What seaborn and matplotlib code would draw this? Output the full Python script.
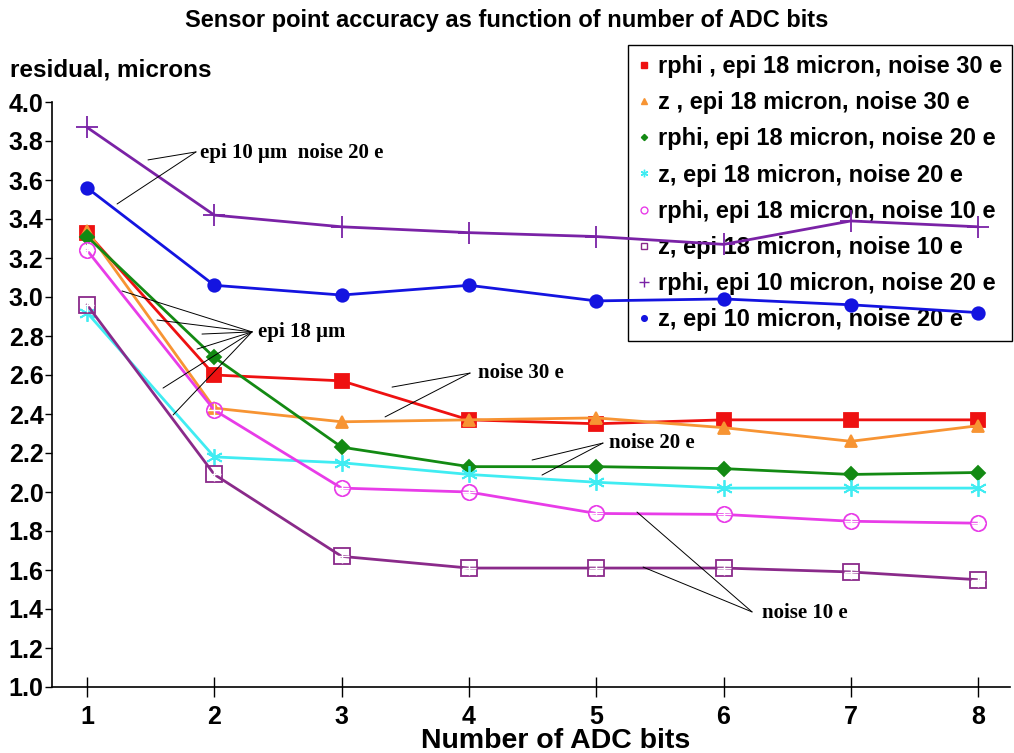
import matplotlib
matplotlib.use("Agg")
import matplotlib.pyplot as plt
import seaborn as sns
import pandas as pd
from matplotlib.lines import Line2D

bits = [1, 2, 3, 4, 5, 6, 7, 8]
labels = [
    "rphi , epi 18 micron, noise 30 e",
    "z , epi 18 micron, noise 30 e",
    "rphi, epi 18 micron, noise 20 e",
    "z, epi 18 micron, noise 20 e",
    "rphi, epi 18 micron, noise 10 e",
    "z, epi 18 micron, noise 10 e",
    "rphi, epi 10 micron, noise 20 e",
    "z, epi 10 micron, noise 20 e",
]
rphi_18_30 = [3.33, 2.60, 2.57, 2.37, 2.35, 2.37, 2.37, 2.37]
z_18_30 = [3.34, 2.43, 2.36, 2.37, 2.38, 2.33, 2.26, 2.34]
rphi_18_20 = [3.31, 2.69, 2.23, 2.13, 2.13, 2.12, 2.09, 2.10]
z_18_20 = [2.92, 2.18, 2.15, 2.09, 2.05, 2.02, 2.02, 2.02]
rphi_18_10 = [3.24, 2.42, 2.02, 2.00, 1.89, 1.885, 1.85, 1.84]
z_18_10 = [2.96, 2.09, 1.67, 1.61, 1.61, 1.61, 1.59, 1.55]
rphi_10_20 = [3.87, 3.42, 3.36, 3.33, 3.31, 3.27, 3.39, 3.36]
z_10_20 = [3.56, 3.06, 3.01, 3.06, 2.98, 2.99, 2.96, 2.92]
series = [rphi_18_30, z_18_30, rphi_18_20, z_18_20, rphi_18_10, z_18_10, rphi_10_20, z_10_20]

yticks = [1.0, 1.2, 1.4, 1.6, 1.8, 2.0, 2.2, 2.4, 2.6, 2.8, 3.0, 3.2, 3.4, 3.6, 3.8, 4.0]

colors = ["#ee1111", "#f79433", "#138a13", "#40ecf2", "#e83ce8", "#8a2a8a", "#7a22a6", "#1414e0"]
markers = ["s", "^", "D", (6, 2, 0), "o", "s", "+", "o"]
msizes = [10, 9, 7, 12, 11, 11, 16, 9]
filled = [True, True, True, True, False, False, True, True]

sns.set_theme(style="white")
plt.rcParams["font.family"] = ["Liberation Sans", "DejaVu Sans"]
plt.rcParams["text.color"] = "black"

fig = plt.figure(figsize=(10.14, 7.53), dpi=100)
ax = fig.add_axes([52 / 1014, 1 - 687 / 753, (1010 - 52) / 1014, (687 - 102) / 753])

for i, vals in enumerate(series):
    d = pd.DataFrame({"bits": bits, "res": vals})
    kw = dict(markeredgecolor=colors[i], markersize=msizes[i], markeredgewidth=1.3)
    kw["markerfacecolor"] = colors[i] if filled[i] else "none"
    sns.lineplot(data=d, x="bits", y="res", ax=ax, color=colors[i], marker=markers[i],
                 linewidth=2, zorder=3, **kw)
    if not filled[i]:
        sns.lineplot(data=d, x="bits", y="res", ax=ax, color=colors[i], marker="+",
                     linestyle="", markersize=msizes[i] * 0.9, markeredgewidth=1.0, zorder=4)

ax.set_xlim(0.725, 8.25)
ax.set_ylim(1.0, 4.0)
ax.set_xticks(bits)
ax.set_yticks(yticks)
ax.set_xticklabels([str(b) for b in bits], fontsize=18, fontweight="bold", color="black")
ax.set_yticklabels([f"{v:.1f}" for v in yticks], fontsize=18, fontweight="bold", color="black")
ax.tick_params(axis="x", bottom=True, direction="inout", length=14, width=1, pad=6, colors="black")
ax.tick_params(axis="y", left=True, direction="out", length=5, width=1, pad=1, colors="black")
for s in ["top", "right"]:
    ax.spines[s].set_visible(False)
for s in ["left", "bottom"]:
    ax.spines[s].set_color("black")
    ax.spines[s].set_linewidth(1.2)
ax.set_xlabel("")
ax.set_ylabel("")
ax.grid(False)

fig.text(0.5, 1 - 20 / 753, "Sensor point accuracy as function of number of ADC bits",
         ha="center", va="center", fontsize=17, fontweight="bold", color="black")
fig.text(10 / 1014, 1 - 70 / 753, "residual, microns", ha="left", va="center",
         fontsize=17.5, fontweight="bold", color="black")
fig.text(556 / 1014, 1 - 741 / 753, "Number of ADC bits", ha="center", va="center",
         fontsize=20.5, fontweight="bold", color="black")

# annotations (data coordinates)
serif = dict(family=["Liberation Serif", "DejaVu Serif"], fontweight="bold", fontsize=15,
             color="black")
def annot(text, tx, ty, sx, sy, ends):
    ax.text(tx, ty, text, ha="left", va="center", zorder=6, **serif)
    for ex, ey in ends:
        ax.plot([sx, ex], [sy, ey], color="black", linewidth=0.7, zorder=5)

annot("epi 10 \u03bcm  noise 20 e", 1.888, 3.738, 1.856, 3.744,
      [(1.479, 3.703), (1.236, 3.477)])
annot("epi 18 \u03bcm", 2.343, 2.821, 2.296, 2.821,
      [(1.275, 3.031), (1.550, 2.882), (1.903, 2.810), (1.864, 2.733), (1.597, 2.533), (1.676, 2.395)])
annot("noise 30 e", 4.071, 2.610, 4.009, 2.610, [(3.396, 2.538), (3.341, 2.385)])
annot("noise 20 e", 5.101, 2.251, 5.053, 2.251, [(4.496, 2.164), (4.574, 2.087)])
annot("noise 10 e", 6.302, 1.379, 6.224, 1.385, [(5.320, 1.897), (5.368, 1.615)])

handles = []
for i in range(len(series)):
    handles.append(Line2D([], [], linestyle="", marker=markers[i], color=colors[i],
                          markerfacecolor=colors[i] if filled[i] else "none",
                          markeredgecolor=colors[i], markersize=msizes[i] * 0.45))
leg = ax.legend(handles, labels, loc="upper right",
                bbox_to_anchor=(1012 / 1014, 1 - 45 / 753), bbox_transform=fig.transFigure,
                frameon=True, fancybox=False, edgecolor="black", framealpha=1,
                prop=dict(family="Liberation Sans", weight="bold", size=17),
                handlelength=0.5, handletextpad=0.35, labelspacing=0.56, borderpad=0.42,
                borderaxespad=0)
leg.get_frame().set_linewidth(1.0)
for t in leg.get_texts():
    t.set_color("black")
leg.set_zorder(2.5)

fig.savefig("out.png", dpi=100)
